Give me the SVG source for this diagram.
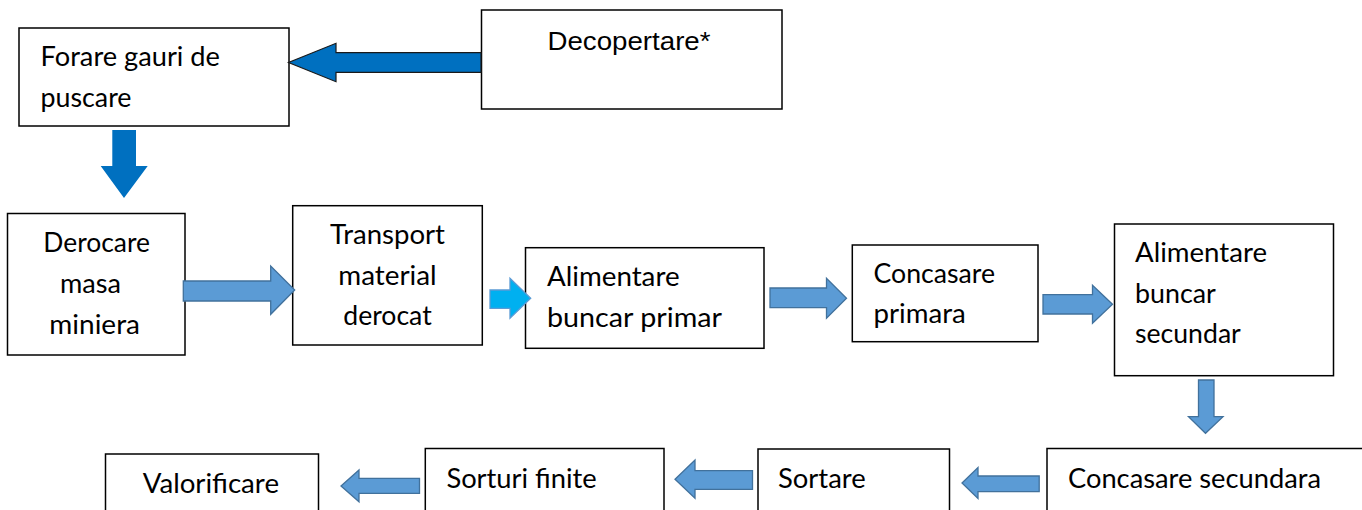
<svg xmlns="http://www.w3.org/2000/svg" width="1362" height="510" viewBox="0 0 1362 510">
  <style>
    .box { fill: #ffffff; stroke: #000000; stroke-width: 1.5; }
    .lbl { font-family: Lato, "Open Sans", "Liberation Sans", sans-serif; font-size: 26px; fill: #000000; }
    .lbl-arial { font-family: "Liberation Sans", Arial, sans-serif; font-size: 26px; fill: #000000; }
    .arr-dark { fill: #0070C0; }
    .arr-dark-ol { fill: #0070C0; stroke: #1a1a1a; stroke-width: 1.2; }
    .arr-mid { fill: #5B9BD5; stroke: #41719C; stroke-width: 1.3; }
    .arr-light { fill: #00B0F0; stroke: #5B9BD5; stroke-width: 1.3; }
  </style>

  <rect width="1362" height="510" fill="#ffffff"/>

  <!-- process steps -->
  <g id="forare">
    <rect class="box" x="19" y="28" width="270" height="98"/>
    <text class="lbl" x="40.5" y="65.5" textLength="179.5" lengthAdjust="spacingAndGlyphs">Forare gauri de</text>
    <text class="lbl" x="40.5" y="107" textLength="91" lengthAdjust="spacingAndGlyphs">puscare</text>
  </g>

  <g id="decopertare">
    <rect class="box" x="481.5" y="10" width="300.5" height="99"/>
    <text class="lbl-arial" x="547.5" y="50" textLength="163" lengthAdjust="spacingAndGlyphs">Decopertare*</text>
  </g>

  <g id="derocare">
    <rect class="box" x="7.5" y="213.5" width="177.5" height="141.5"/>
    <text class="lbl" x="43.3" y="251.7" textLength="106.7" lengthAdjust="spacingAndGlyphs">Derocare</text>
    <text class="lbl" x="60" y="292.5" textLength="61" lengthAdjust="spacingAndGlyphs">masa</text>
    <text class="lbl" x="49.3" y="334" textLength="90.7" lengthAdjust="spacingAndGlyphs">miniera</text>
  </g>

  <g id="transport">
    <rect class="box" x="292.7" y="205.7" width="189.6" height="139.3"/>
    <text class="lbl" x="330" y="244.3" textLength="115" lengthAdjust="spacingAndGlyphs">Transport</text>
    <text class="lbl" x="338.3" y="285" textLength="98.4" lengthAdjust="spacingAndGlyphs">material</text>
    <text class="lbl" x="343.3" y="325" textLength="88.4" lengthAdjust="spacingAndGlyphs">derocat</text>
  </g>

  <g id="alimentare-primar">
    <rect class="box" x="525.5" y="247.7" width="238.5" height="100.6"/>
    <text class="lbl" x="547" y="285.5" textLength="132.6" lengthAdjust="spacingAndGlyphs">Alimentare</text>
    <text class="lbl" x="547" y="326.5" textLength="175" lengthAdjust="spacingAndGlyphs">buncar  primar</text>
  </g>

  <g id="concasare-primara">
    <rect class="box" x="852.3" y="245" width="185.7" height="96.7"/>
    <text class="lbl" x="873.5" y="283" textLength="121.5" lengthAdjust="spacingAndGlyphs">Concasare</text>
    <text class="lbl" x="873.5" y="323" textLength="92.3" lengthAdjust="spacingAndGlyphs">primara</text>
  </g>

  <g id="alimentare-secundar">
    <rect class="box" x="1114.5" y="224" width="219" height="151.7"/>
    <text class="lbl" x="1135" y="261.7" textLength="132" lengthAdjust="spacingAndGlyphs">Alimentare</text>
    <text class="lbl" x="1135" y="303" textLength="80.8" lengthAdjust="spacingAndGlyphs">buncar</text>
    <text class="lbl" x="1135" y="343.3" textLength="105.8" lengthAdjust="spacingAndGlyphs">secundar</text>
  </g>

  <g id="concasare-secundara">
    <rect class="box" x="1047" y="448.5" width="330" height="80"/>
    <text class="lbl" x="1068" y="488.3" textLength="253" lengthAdjust="spacingAndGlyphs">Concasare secundara</text>
  </g>

  <g id="sortare">
    <rect class="box" x="758" y="449" width="191.5" height="80"/>
    <text class="lbl" x="778" y="488.3" textLength="87.7" lengthAdjust="spacingAndGlyphs">Sortare</text>
  </g>

  <g id="sorturi-finite">
    <rect class="box" x="425.3" y="448.5" width="238.7" height="80"/>
    <text class="lbl" x="446.4" y="488.3" textLength="150.3" lengthAdjust="spacingAndGlyphs">Sorturi finite</text>
  </g>

  <g id="valorificare">
    <rect class="box" x="105.5" y="454" width="213" height="80"/>
    <text class="lbl" x="142.7" y="493.3" textLength="136.3" lengthAdjust="spacingAndGlyphs">Valorificare</text>
  </g>

  <!-- block arrows between steps -->
  <g id="connectors">
    <polygon class="arr-dark-ol" points="481,52.7 336,52.7 336,43.3 288.5,62.5 336,81.7 336,72.3 481,72.3"/>
    <polygon class="arr-dark" points="112.3,130 136,130 136,166 147.7,166 124,198 100.7,166 112.3,166"/>
    <polygon class="arr-mid" points="183.3,281 270.7,281 270.7,266 294.7,290 270.7,314.3 270.7,301 183.3,301"/>
    <polygon class="arr-light" points="490,290 510,290 510,278.3 530.7,298.3 510,318.3 510,308.3 490,308.3"/>
    <polygon class="arr-mid" points="770,288 826.5,288 826.5,278.3 846.5,298.3 826.5,318.3 826.5,307.7 770,307.7"/>
    <polygon class="arr-mid" points="1043,294.7 1092.5,294.7 1092.5,285.3 1112.5,304.3 1092.5,323.3 1092.5,314 1043,314"/>
    <polygon class="arr-mid" points="1198.5,380 1214,380 1214,416.7 1223,416.7 1205.5,433.3 1188.5,416.7 1198.5,416.7"/>
    <polygon class="arr-mid" points="1039.2,476 978,476 978,467.5 962,483 978,498.5 978,491.7 1039.2,491.7"/>
    <polygon class="arr-mid" points="752.5,470.7 695,470.7 695,460 675,479.3 695,498.3 695,489.3 752.5,489.3"/>
    <polygon class="arr-mid" points="419.5,478.3 359,478.3 359,470 341,486 359,501.7 359,493.3 419.5,493.3"/>
  </g>
</svg>
